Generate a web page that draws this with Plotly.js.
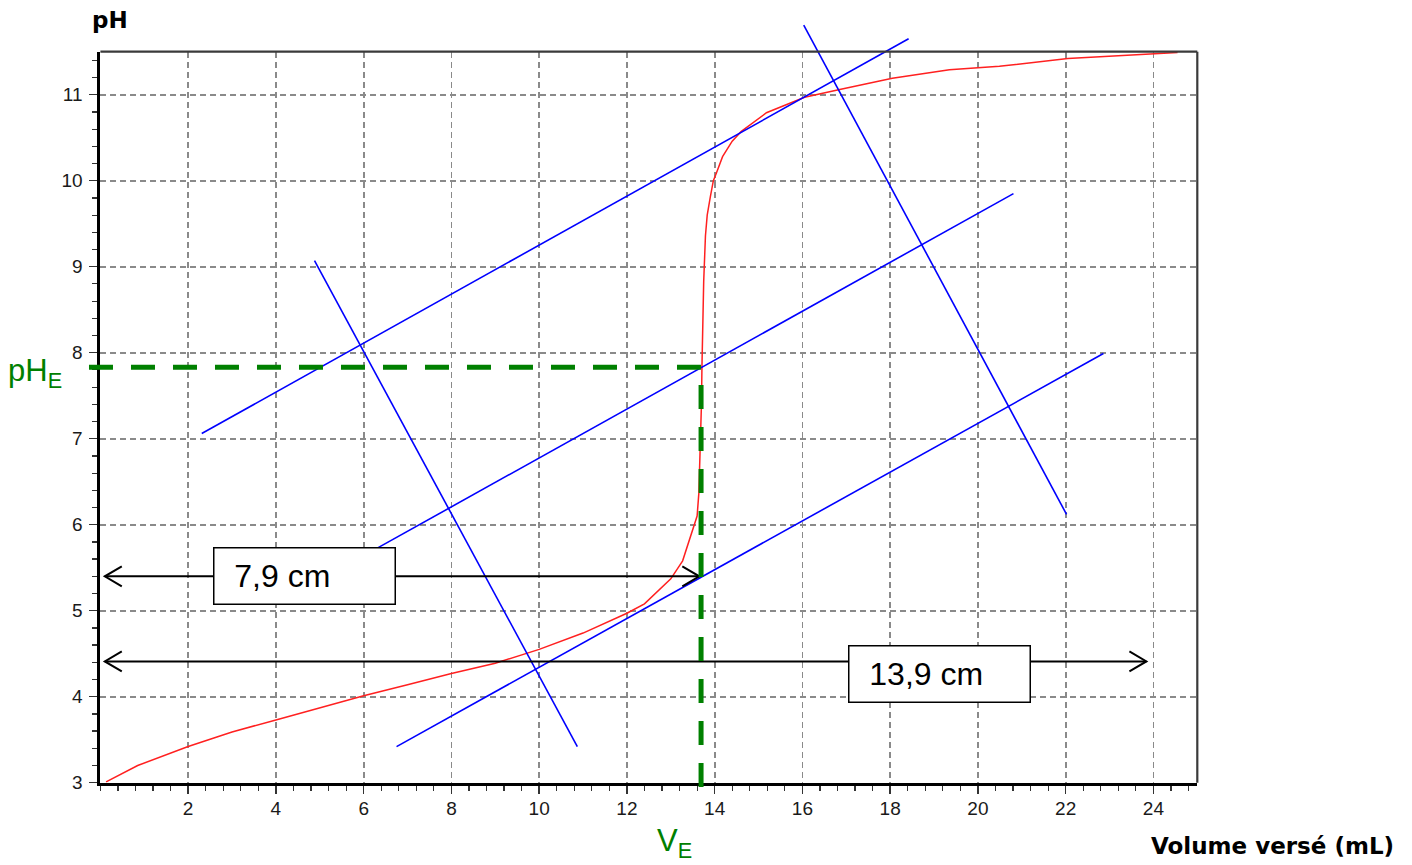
<!DOCTYPE html>
<html>
<head>
<meta charset="utf-8">
<script src="https://cdn.plot.ly/plotly-3.0.1.min.js"></script>
<style>html,body{margin:0;padding:0;background:#fff;}#chart{width:1412px;height:865px;}</style>
</head>
<body>
<div id="chart"></div>
<script>
// ---------------- data ----------------
const volume = [0.13, 0.85, 2.0, 3.0, 4.0, 5.0, 6.0, 7.0, 8.0, 9.0, 10.0, 11.0, 12.0, 12.4, 13.0, 13.27, 13.45, 13.60, 13.64, 13.67, 13.70, 13.71, 13.73, 13.75, 13.79, 13.83, 13.90, 13.97, 14.04, 14.18, 14.40, 14.60, 15.18, 15.63, 16.05, 16.85, 18.05, 19.35, 20.49, 22.05, 24.06, 24.55];
const pH     = [3.01, 3.20, 3.42, 3.59, 3.73, 3.87, 4.01, 4.14, 4.27, 4.39, 4.55, 4.74, 4.97, 5.08, 5.37, 5.58, 5.86, 6.10, 6.37, 6.83, 7.42, 7.83, 8.30, 8.83, 9.36, 9.60, 9.81, 10.00, 10.09, 10.28, 10.46, 10.57, 10.79, 10.88, 10.97, 11.06, 11.19, 11.29, 11.33, 11.42, 11.48, 11.49];

// construction lines (tangents and perpendiculars)
const tangentUpperX = [2.31, 18.42];  const tangentUpperY = [7.06, 11.65];
const parallelMidX  = [6.32, 20.81];  const parallelMidY  = [5.73, 9.85];
const tangentLowerX = [6.75, 22.86];  const tangentLowerY = [3.42, 7.99];
const perpLeftX     = [4.88, 10.87];  const perpLeftY     = [9.07, 3.42];
const perpRightX    = [16.03, 22.02]; const perpRightY    = [11.81, 6.12];

// equivalence point
const VE = 13.69;
const pHE = 7.83;
const pHEdashStart = -0.26;
const VEdashStart = 2.95;

// measurement arrows
const arrowShortX = [0.1, 13.65]; const arrowShortY = 5.40; const arrowShortLabel = "7,9 cm";
const arrowLongX  = [0.1, 23.84]; const arrowLongY  = 4.41; const arrowLongLabel  = "13,9 cm";

// axes
const xTicks = [2, 4, 6, 8, 10, 12, 14, 16, 18, 20, 22, 24];
const yTicks = [3, 4, 5, 6, 7, 8, 9, 10, 11];
const xRange = [0, 25];
const yRange = [3, 11.5];

// ---------------- layout geometry ----------------
const W = 1412, H = 865;
const plotLeft = 100.4, plotRight = 1197.3, plotTop = 51.7, plotBottom = 782.7;
const xDom = [plotLeft / W, plotRight / W];
const yDom = [1 - plotBottom / H, 1 - plotTop / H];
function overlayRange(r, d) {
  const s = (r[1] - r[0]) / (d[1] - d[0]);
  return [r[0] - d[0] * s, r[1] + (1 - d[1]) * s];
}
const pxPerX = (plotRight - plotLeft) / (xRange[1] - xRange[0]);
const pxPerY = (plotBottom - plotTop) / (yRange[1] - yRange[0]);
const headLen = 17 / pxPerX, headHalf = 10 / pxPerY;

function arrowTrace(xs, y) {
  const a = xs[0], b = xs[1];
  return {
    x: [a, b, null, a + headLen, a, a + headLen, null, b - headLen, b, b - headLen],
    y: [y, y, null, y + headHalf, y, y - headHalf, null, y + headHalf, y, y - headHalf],
    xaxis: 'x2', yaxis: 'y2', mode: 'lines', hoverinfo: 'skip',
    line: {color: '#000', width: 2}
  };
}
function blue(xs, ys) {
  return {x: xs, y: ys, xaxis: 'x2', yaxis: 'y2', mode: 'lines', hoverinfo: 'skip',
          line: {color: '#0000ff', width: 1.6}};
}

const traces = [
  {x: volume, y: pH, xaxis: 'x', yaxis: 'y', mode: 'lines', line: {color: '#ff2020', width: 1.5}, hoverinfo: 'skip'},
  blue(tangentUpperX, tangentUpperY),
  blue(parallelMidX, parallelMidY),
  blue(tangentLowerX, tangentLowerY),
  blue(perpLeftX, perpLeftY),
  blue(perpRightX, perpRightY),
  arrowTrace(arrowShortX, arrowShortY),
  arrowTrace(arrowLongX, arrowLongY),
  {x: [pHEdashStart, VE], y: [pHE, pHE], xaxis: 'x2', yaxis: 'y2', mode: 'lines', hoverinfo: 'skip',
   line: {color: '#008000', width: 5, dash: '24px,18px'}},
  {x: [VE, VE], y: [VEdashStart, pHE], xaxis: 'x2', yaxis: 'y2', mode: 'lines', hoverinfo: 'skip',
   line: {color: '#008000', width: 5, dash: '24px,18px'}}
];

const tickFont = {family: 'Liberation Sans, Arial, sans-serif', size: 19, color: '#1a1a1a'};
const gridStyle = {showgrid: true, gridcolor: '#8a8a8a', gridwidth: 1.7, griddash: '6px,4px'};

const boxCommon = {
  xref: 'x2', yref: 'y2', showarrow: false, align: 'left', valign: 'middle',
  width: 176, height: 51, bgcolor: '#fff', bordercolor: '#000', borderwidth: 1.5, borderpad: 2,
  font: {family: 'Liberation Sans, Arial, sans-serif', size: 32, color: '#000'}
};

const layout = {
  width: W, height: H, autosize: false, showlegend: false,
  margin: {l: 0, r: 0, t: 0, b: 0},
  paper_bgcolor: '#fff', plot_bgcolor: 'rgba(0,0,0,0)',
  xaxis: Object.assign({
    domain: xDom, range: xRange, tickmode: 'array', tickvals: xTicks, anchor: 'y',
    ticks: 'outside', ticklen: 8, tickwidth: 1.5, tickcolor: '#333',
    showline: true, linecolor: '#000', linewidth: 3, zeroline: false,
    tickfont: tickFont, ticklabelstandoff: -2,
    minor: {dtick: 0.4, tick0: 0, ticks: 'outside', ticklen: 5, tickwidth: 1.2, tickcolor: '#333', showgrid: false},
    fixedrange: true
  }, gridStyle),
  yaxis: Object.assign({
    domain: yDom, range: yRange, tickmode: 'array', tickvals: yTicks, anchor: 'x',
    ticks: 'outside', ticklen: 8, tickwidth: 1.5, tickcolor: '#333',
    showline: true, linecolor: '#000', linewidth: 3, zeroline: false,
    tickfont: tickFont, ticklabelstandoff: 3,
    minor: {dtick: 0.2, tick0: 0, ticks: 'outside', ticklen: 5, tickwidth: 1.2, tickcolor: '#333', showgrid: false},
    fixedrange: true
  }, gridStyle),
  xaxis2: {domain: [0, 1], range: overlayRange(xRange, xDom), anchor: 'y2', visible: false, showgrid: false, zeroline: false, fixedrange: true},
  yaxis2: {domain: [0, 1], range: overlayRange(yRange, yDom), anchor: 'x2', visible: false, showgrid: false, zeroline: false, fixedrange: true},
  shapes: [
    {type: 'line', xref: 'x domain', yref: 'y domain', x0: 0, x1: 1, y0: 1, y1: 1, line: {color: '#3a3a3a', width: 2.2}},
    {type: 'line', xref: 'x domain', yref: 'y domain', x0: 1, x1: 1, y0: 0, y1: 1, line: {color: '#3a3a3a', width: 2.2}}
  ],
  annotations: [
    Object.assign({x: 4.655, y: arrowShortY, text: '\u00A0\u00A0' + arrowShortLabel}, boxCommon),
    Object.assign({x: 19.13, y: 4.266, text: '\u00A0\u00A0' + arrowLongLabel}, boxCommon),
    {xref: 'paper', yref: 'paper', x: 110 / W, y: 1 - 20 / H, xanchor: 'center', yanchor: 'middle', showarrow: false,
     text: '<b>pH</b>', font: {family: 'DejaVu Sans, Verdana, sans-serif', size: 23, color: '#000'}},
    {xref: 'paper', yref: 'paper', x: 1272 / W, y: 1 - 846 / H, xanchor: 'center', yanchor: 'middle', showarrow: false,
     text: '<b>Volume versé (mL)</b>', font: {family: 'DejaVu Sans, Verdana, sans-serif', size: 23, color: '#000'}},
    {xref: 'paper', yref: 'paper', x: 6 / W, y: 1 - 373 / H, xanchor: 'left', yanchor: 'middle', showarrow: false,
     text: 'pH<sub>E</sub>', font: {family: 'Liberation Sans, Arial, sans-serif', size: 31, color: '#008000'}},
    {xref: 'paper', yref: 'paper', x: 655 / W, y: 1 - 843 / H, xanchor: 'left', yanchor: 'middle', showarrow: false,
     text: 'V<sub>E</sub>', font: {family: 'Liberation Sans, Arial, sans-serif', size: 31, color: '#008000'}}
  ]
};

Plotly.newPlot('chart', traces, layout, {staticPlot: true, displayModeBar: false});
</script>
</body>
</html>
